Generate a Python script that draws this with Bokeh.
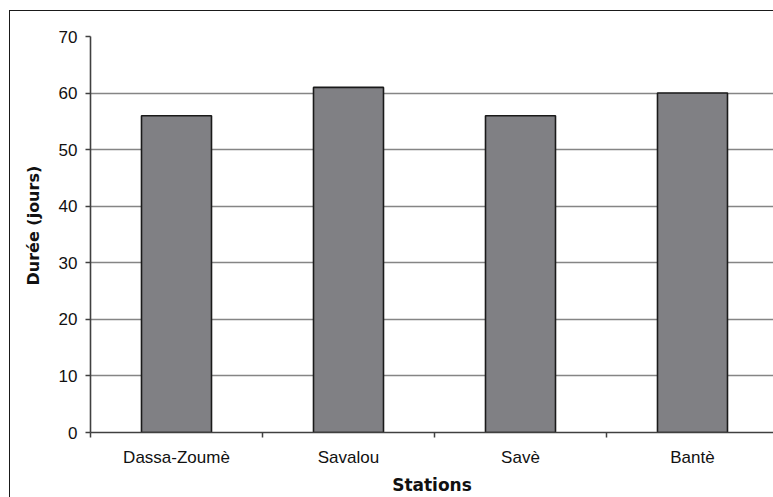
from bokeh.plotting import figure
from bokeh.models import ColumnDataSource, Range1d, FixedTicker, InlineStyleSheet, Title
from bokeh.embed import file_html
from bokeh.resources import INLINE

# Durée par station (jours)
stations = ["Dassa-Zoumè", "Savalou", "Savè", "Bantè"]
durees = [56, 61, 56, 60]
y_ticks = [0, 10, 20, 30, 40, 50, 60, 70]

centers = [i + 0.5 for i in range(len(stations))]
src = ColumnDataSource(dict(x=centers, top=durees, station=stations))

p = figure(width=773, height=497, output_backend="svg", toolbar_location=None,
           x_range=Range1d(0, 3.971), y_range=Range1d(0, 70),
           min_border_left=90, min_border_right=0, min_border_top=36,
           min_border_bottom=64)
p.outline_line_color = None
p.background_fill_color = "white"
p.border_fill_color = "white"

p.vbar(x="x", top="top", bottom=0, width=0.407, source=src,
       fill_color="#808084", line_color="#1a1a1a", line_width=1.6)

# x axis: labels at category centres, ticks at category boundaries
xa = p.xaxis[0]
xa.ticker = FixedTicker(ticks=centers, minor_ticks=[0, 1, 2, 3, 4])
xa.major_label_overrides = {c: s for c, s in zip(centers, stations)}
xa.major_tick_out = 0
xa.major_tick_in = 0
xa.minor_tick_out = 5
xa.minor_tick_in = 0
xa.minor_tick_line_color = "#404040"
xa.minor_tick_line_width = 1.5
xa.axis_line_color = "#404040"
xa.axis_line_width = 1.6
xa.major_label_text_font = "Liberation Sans"
xa.major_label_text_font_size = "17px"
xa.major_label_text_color = "#111111"
xa.major_label_standoff = 10
xa.axis_label = "Stations"
xa.axis_label_text_font = "DejaVu Sans"
xa.axis_label_text_font_style = "bold"
xa.axis_label_text_font_size = "17px"
xa.axis_label_text_color = "#111111"
xa.axis_label_standoff = 5

ya = p.yaxis[0]
ya.ticker = FixedTicker(ticks=y_ticks, minor_ticks=[])
ya.major_tick_out = 5
ya.major_tick_in = 0
ya.major_tick_line_color = "#404040"
ya.major_tick_line_width = 1.5
ya.axis_line_color = "#404040"
ya.axis_line_width = 1.6
ya.major_label_text_font = "Liberation Sans"
ya.major_label_text_font_size = "17px"
ya.major_label_text_color = "#111111"
ya.major_label_standoff = 8

# y axis title, set slightly above the frame's middle
p.add_layout(Title(text="Durée (jours)", align="left", offset=147,
                   text_font="DejaVu Sans", text_font_style="bold",
                   text_font_size="16px", text_color="#111111",
                   standoff=25), "left")

p.xgrid.visible = False
p.ygrid.ticker = FixedTicker(ticks=y_ticks)
p.ygrid.grid_line_color = "#858585"
p.ygrid.grid_line_width = 1.4

# outer chart border (left and top edges inside the page)
p.stylesheets = [InlineStyleSheet(css="""
:host { position: relative; }
:host::after {
  content: ""; position: absolute; left: 9px; top: 10px; right: 0; bottom: 0;
  border-left: 1px solid #1a1a1a; border-top: 1px solid #1a1a1a;
  pointer-events: none;
}
""")]

open("out.html", "w").write(file_html(p, INLINE))
